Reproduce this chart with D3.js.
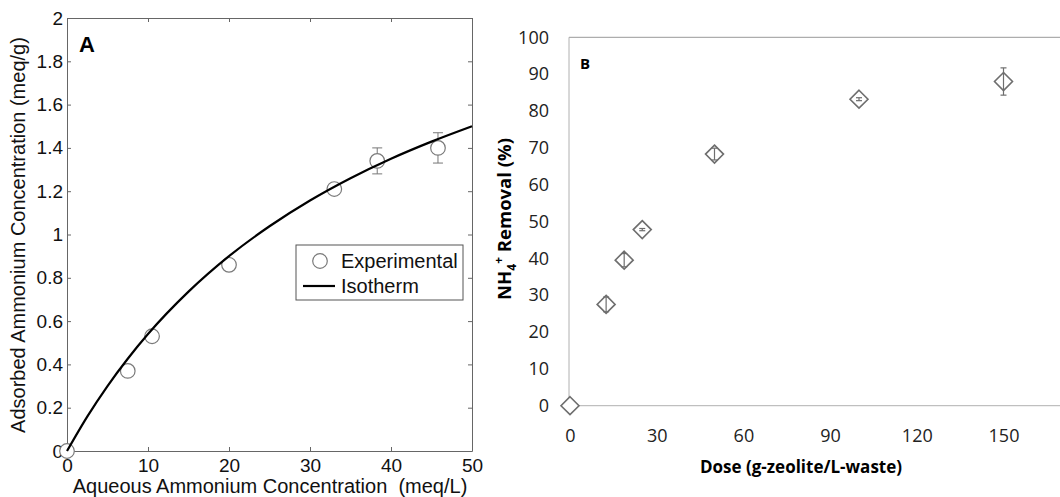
<!DOCTYPE html>
<html>
<head>
<meta charset="utf-8">
<script src="https://cdn.jsdelivr.net/npm/d3@7"></script>
<style>
  body { margin: 0; background: #fff; }
  svg { display: block; }
</style>
</head>
<body>
<div id="chart"></div>
<script>
// panel A - isotherm
var expC = [0, 7.5, 10.5, 20, 33, 38.3, 45.8];
var expQ = [0, 0.37, 0.53, 0.86, 1.21, 1.34, 1.40];
var expErr = [0, 0, 0, 0, 0, 0.06, 0.07];
var isoC = [0, 2.5, 5, 7.5, 10, 15, 20, 25, 30, 35, 40, 45, 50];
var isoQ = [0, 0.159, 0.30, 0.426, 0.54, 0.736, 0.90, 1.038, 1.157, 1.26, 1.35, 1.429, 1.50];
var ticksAx = [0, 10, 20, 30, 40, 50];
var ticksAy = [0, 0.2, 0.4, 0.6, 0.8, 1, 1.2, 1.4, 1.6, 1.8, 2];

// panel B - dose
var dose = [0, 12.5, 18.75, 25, 50, 100, 150];
var removal = [0, 27.5, 39.5, 47.8, 68.3, 83.2, 88.0];
var removalErr = [0, 2.0, 1.8, 0.3, 1.6, 0.4, 3.7];
var ticksBx = [0, 30, 60, 90, 120, 150];
var ticksBy = [0, 10, 20, 30, 40, 50, 60, 70, 80, 90, 100];

var svg = d3.select("#chart").append("svg")
    .attr("width", 1060)
    .attr("height", 497);

// ---------- A ----------
var fontA = "'Liberation Sans', Arial, sans-serif";
var xA = d3.scaleLinear().domain([0, 50]).range([67, 472]);
var yA = d3.scaleLinear().domain([0, 2]).range([451, 18]);

var gA = svg.append("g");

function styleAxis(g, col) {
  g.select(".domain").attr("stroke", col);
  g.selectAll(".tick line").attr("stroke", col);
  g.selectAll(".tick text").attr("fill", "#111");
}

gA.append("g")
    .attr("transform", "translate(0,451)")
    .call(d3.axisBottom(xA).tickValues(ticksAx).tickSizeInner(-4).tickSizeOuter(0).tickPadding(8))
    .attr("font-family", fontA).attr("font-size", 19)
    .call(styleAxis, "#666");
gA.append("g")
    .attr("transform", "translate(0,18)")
    .call(d3.axisTop(xA).tickValues(ticksAx).tickSizeInner(-4).tickSizeOuter(0).tickFormat(""))
    .call(styleAxis, "#666");
gA.append("g")
    .attr("transform", "translate(67,0)")
    .call(d3.axisLeft(yA).tickValues(ticksAy).tickSizeInner(-4).tickSizeOuter(0).tickPadding(4).tickFormat(d3.format("~g")))
    .attr("font-family", fontA).attr("font-size", 19)
    .call(styleAxis, "#666");
gA.append("g")
    .attr("transform", "translate(472,0)")
    .call(d3.axisRight(yA).tickValues(ticksAy).tickSizeInner(-4).tickSizeOuter(0).tickFormat(""))
    .call(styleAxis, "#666");

// error bars
var ptsA = expC.map(function(c, i) { return { c: c, q: expQ[i], e: expErr[i] }; });
var errA = gA.selectAll(".errA")
  .data(ptsA.filter(function(d) { return d.e > 0; }))
  .enter().append("g")
    .attr("stroke", "#777")
    .attr("stroke-width", 1);
errA.append("line")
    .attr("x1", function(d) { return xA(d.c); })
    .attr("x2", function(d) { return xA(d.c); })
    .attr("y1", function(d) { return yA(d.q - d.e); })
    .attr("y2", function(d) { return yA(d.q + d.e); });
errA.selectAll(".cap")
  .data(function(d) { return [[d.c, d.q - d.e], [d.c, d.q + d.e]]; })
  .enter().append("line")
    .attr("x1", function(d) { return xA(d[0]) - 5; })
    .attr("x2", function(d) { return xA(d[0]) + 5; })
    .attr("y1", function(d) { return yA(d[1]); })
    .attr("y2", function(d) { return yA(d[1]); });

gA.selectAll(".ptA")
  .data(ptsA)
  .enter().append("circle")
    .attr("cx", function(d) { return xA(d.c); })
    .attr("cy", function(d) { return yA(d.q); })
    .attr("r", 7.3)
    .attr("fill", "#fff")
    .attr("stroke", "#7a7a7a")
    .attr("stroke-width", 1.2);

var iso = isoC.map(function(c, i) { return [c, isoQ[i]]; });
gA.append("path")
    .datum(iso)
    .attr("fill", "none")
    .attr("stroke", "#000")
    .attr("stroke-width", 2.2)
    .attr("d", d3.line()
      .x(function(d) { return xA(d[0]); })
      .y(function(d) { return yA(d[1]); })
      .curve(d3.curveMonotoneX));

// legend
var leg = gA.append("g");
leg.append("rect")
    .attr("x", 296).attr("y", 245).attr("width", 167).attr("height", 55)
    .attr("fill", "#fff").attr("stroke", "#555").attr("stroke-width", 1);
leg.append("circle")
    .attr("cx", 320).attr("cy", 261).attr("r", 7.3)
    .attr("fill", "#fff").attr("stroke", "#7a7a7a").attr("stroke-width", 1.2);
leg.append("text")
    .attr("x", 341).attr("y", 268)
    .attr("font-family", fontA).attr("font-size", 20).attr("fill", "#111")
    .text("Experimental");
leg.append("line")
    .attr("x1", 303).attr("x2", 335).attr("y1", 286).attr("y2", 286)
    .attr("stroke", "#000").attr("stroke-width", 2.2);
leg.append("text")
    .attr("x", 341).attr("y", 293)
    .attr("font-family", fontA).attr("font-size", 20).attr("fill", "#111")
    .text("Isotherm");

gA.append("text")
    .attr("x", 79).attr("y", 52)
    .attr("font-family", fontA).attr("font-size", 22).attr("font-weight", "bold")
    .text("A");

gA.append("text")
    .attr("x", 270).attr("y", 493)
    .attr("text-anchor", "middle")
    .attr("font-family", fontA).attr("font-size", 20).attr("fill", "#111")
    .attr("xml:space", "preserve")
    .text("Aqueous Ammonium Concentration  (meq/L)");

gA.append("text")
    .attr("transform", "translate(25,235) rotate(-90)")
    .attr("text-anchor", "middle")
    .attr("font-family", fontA).attr("font-size", 20).attr("fill", "#111")
    .text("Adsorbed Ammonium Concentration (meq/g)");

// ---------- B ----------
var fontB = "'Open Sans', sans-serif";
var xB = d3.scaleLinear().domain([0, 150]).range([570, 1003.5]);
var yB = d3.scaleLinear().domain([0, 100]).range([405.7, 37.3]);
var gB = svg.append("g");
var lineCol = "#b0b0b0";

gB.append("line")
    .attr("x1", 569).attr("x2", 1060).attr("y1", yB(100)).attr("y2", yB(100))
    .attr("stroke", "#999").attr("stroke-width", 1);
gB.append("line")
    .attr("x1", 569).attr("x2", 1060).attr("y1", yB(0)).attr("y2", yB(0))
    .attr("stroke", lineCol).attr("stroke-width", 1);
gB.append("line")
    .attr("x1", 569).attr("x2", 569).attr("y1", yB(100)).attr("y2", yB(0))
    .attr("stroke", lineCol).attr("stroke-width", 1);

var axB = gB.append("g")
    .attr("transform", "translate(0," + yB(0) + ")")
    .call(d3.axisBottom(xB).tickValues(ticksBx).tickSize(0).tickPadding(24))
    .attr("font-family", fontB).attr("font-size", 18);
axB.select(".domain").remove();
axB.selectAll("text").attr("fill", "#222");

var ayB = gB.append("g")
    .attr("transform", "translate(569,0)")
    .call(d3.axisLeft(yB).tickValues(ticksBy).tickSize(0).tickPadding(20))
    .attr("font-family", fontB).attr("font-size", 18);
ayB.select(".domain").remove();
ayB.selectAll("text").attr("fill", "#222");

var ptsB = dose.map(function(d, i) { return { x: d, y: removal[i], e: removalErr[i] }; });
var markCol = "#6e6e6e";
gB.selectAll(".ptB")
  .data(ptsB)
  .enter().append("path")
    .attr("transform", function(d) { return "translate(" + xB(d.x) + "," + yB(d.y) + ")"; })
    .attr("d", d3.symbol().type(d3.symbolDiamond2).size(206))
    .attr("fill", "#fff")
    .attr("stroke", markCol)
    .attr("stroke-width", 1.6);

var errB = gB.selectAll(".errB")
  .data(ptsB.filter(function(d) { return d.e > 0; }))
  .enter().append("g")
    .attr("stroke", markCol)
    .attr("stroke-width", 1.2);
errB.append("line")
    .attr("x1", function(d) { return xB(d.x); })
    .attr("x2", function(d) { return xB(d.x); })
    .attr("y1", function(d) { return yB(d.y - d.e); })
    .attr("y2", function(d) { return yB(d.y + d.e); });
errB.selectAll(".cap")
  .data(function(d) { return [[d.x, d.y - d.e], [d.x, d.y + d.e]]; })
  .enter().append("line")
    .attr("x1", function(d) { return xB(d[0]) - 3; })
    .attr("x2", function(d) { return xB(d[0]) + 3; })
    .attr("y1", function(d) { return yB(d[1]); })
    .attr("y2", function(d) { return yB(d[1]); });

gB.append("text")
    .attr("x", 580).attr("y", 69)
    .attr("font-family", fontB).attr("font-size", 15).attr("font-weight", "bold")
    .text("B");

gB.append("text")
    .attr("x", 801).attr("y", 473)
    .attr("text-anchor", "middle")
    .attr("font-family", fontB).attr("font-size", 17).attr("font-weight", "bold")
    .text("Dose (g-zeolite/L-waste)");

var yt = gB.append("text")
    .attr("transform", "translate(511,219) rotate(-90)")
    .attr("text-anchor", "middle")
    .attr("font-family", fontB).attr("font-size", 18.5).attr("font-weight", "bold");
yt.append("tspan").text("NH");
yt.append("tspan").attr("font-size", 12).attr("dy", 5).text("4");
yt.append("tspan").attr("font-size", 12).attr("dy", -13).text("+");
yt.append("tspan").attr("dy", 8).text(" Removal (%)");
</script>
</body>
</html>
